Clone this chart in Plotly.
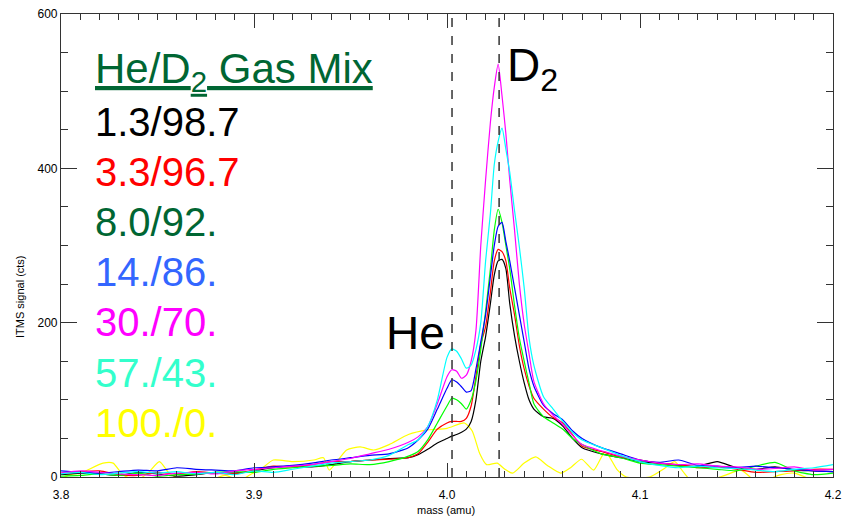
import plotly.graph_objects as go

# ---------------- data ----------------
mass = [3.80, 3.81, 3.82, 3.83, 3.84, 3.85, 3.86, 3.87, 3.88, 3.89, 3.90, 3.91, 3.92, 3.93, 3.94, 3.95, 3.96, 3.97,
        3.98, 3.985, 3.99, 3.995, 4.0, 4.0025, 4.005, 4.0075, 4.01, 4.0125, 4.015, 4.0175, 4.02, 4.0225, 4.0245,
        4.0265, 4.0285, 4.0305, 4.0325, 4.035, 4.0375, 4.04, 4.0425, 4.045, 4.05, 4.055, 4.06, 4.065,
        4.07, 4.08, 4.09, 4.10, 4.11, 4.12, 4.13, 4.14, 4.15, 4.16, 4.17, 4.18, 4.19, 4.20]

sig_1_3 = [3, 5, 4, 2, 6, 4, 1, 3, 6, 5, 8, 12, 14, 13, 16, 20, 22, 24,
           25, 29, 36, 44, 50, 53, 55, 58, 62, 72, 100, 150, 182, 225, 262,
           280, 282, 270, 225, 183, 150, 122, 100, 88, 78, 76, 66, 50,
           38, 30, 25, 20, 18, 15, 14, 20, 12, 10, 13, 9, 8, 7]
sig_3_3 = [5, 7, 8, 3, 2, 6, 4, 7, 5, 4, 9, 14, 13, 16, 20, 20, 22, 23,
           25, 30, 45, 62, 70, 72, 72, 72, 76, 92, 130, 172, 195, 240, 280,
           295, 292, 280, 245, 210, 170, 140, 118, 102, 88, 77, 70, 55,
           40, 33, 26, 22, 18, 16, 12, 13, 10, 6, 7, 8, 10, 10]
sig_8_0 = [1, 2, 4, 2, 5, 1, 3, 4, 6, 7, 6, 10, 12, 14, 15, 17, 16, 20,
           27, 33, 48, 70, 92, 102, 100, 95, 88, 100, 125, 165, 215, 270, 320,
           347, 330, 300, 270, 222, 180, 150, 122, 95, 78, 70, 62, 50,
           42, 30, 25, 18, 16, 14, 12, 10, 8, 14, 19, 8, 3, 5]
sig_14 = [8, 6, 5, 7, 9, 8, 12, 10, 9, 8, 12, 13, 15, 18, 22, 25, 28, 30,
          38, 48, 62, 88, 115, 126, 123, 117, 110, 112, 140, 175, 210, 260, 300,
          325, 330, 305, 280, 245, 210, 175, 140, 118, 93, 82, 74, 60,
          50, 38, 30, 22, 19, 22, 15, 14, 12, 14, 12, 10, 8, 7]
sig_30 = [5, 8, 6, 4, 3, 2, 5, 6, 4, 8, 10, 12, 14, 16, 20, 24, 30, 36,
          45, 52, 65, 95, 130, 139, 137, 128, 132, 150, 190, 300, 385, 460, 505,
          535, 494, 445, 385, 320, 250, 198, 160, 124, 95, 80, 68, 54,
          42, 34, 27, 22, 18, 16, 17, 14, 13, 10, 11, 13, 9, 10]
sig_57 = [4, 6, 3, 5, 7, 5, 7, 4, 6, 3, 8, 6, 10, 14, 18, 20, 22, 28,
          42, 48, 65, 100, 155, 166, 163, 153, 141, 145, 165, 200, 280, 342, 405,
          435, 452, 425, 395, 345, 298, 245, 180, 145, 104, 88, 72, 58,
          48, 38, 28, 20, 15, 12, 14, 12, 11, 9, 7, 10, 12, 16]

mass_100 = [3.800, 3.805, 3.810, 3.8218, 3.827, 3.832, 3.839, 3.845, 3.851, 3.856, 3.862, 3.870, 3.877, 3.885,
            3.893, 3.898, 3.903, 3.910, 3.920, 3.931, 3.936, 3.939, 3.948, 3.955, 3.962, 3.970, 3.980, 3.990,
            4.000, 4.009, 4.013, 4.017, 4.0205, 4.026, 4.030, 4.034, 4.040, 4.046, 4.052, 4.059, 4.064,
            4.0697, 4.076, 4.082, 4.088, 4.093, 4.105, 4.112, 4.118, 4.122, 4.127, 4.135, 4.145, 4.152,
            4.157, 4.161, 4.167, 4.173, 4.180, 4.190, 4.200]
sig_100 = [-2, 3, 5, 18, 18, 3, -4, 5, 20, 5, -3, -5, -4, 2,
           -4, 3, 9, 22, 20, 22, 25, 9, 35, 39, 35, 42, 55, 61,
           63, 70, 60, 30, 16, 18, 10, 5, 18, 26, 15, 5, 12,
           23, 9, 33, 10, 0, 0, 10, 20, 8, -6, -5, 3, 9,
           0, -13, -3, 3, 5, -4, -3]

labels = ["1.3/98.7", "3.3/96.7", "8.0/92.", "14./86.", "30./70.", "57./43.", "100./0."]
line_colors = ["#000000", "#ff0000", "#00ff00", "#0000ff", "#ff00ff", "#00ffff", "#ffff00"]
text_colors = ["#000000", "#ff0000", "#006633", "#3366ff", "#ff00ff", "#33ffcc", "#ffff00"]

he_mass = 4.0026
d2_mass = 4.027

series = [(mass, sig_1_3), (mass, sig_3_3), (mass, sig_8_0), (mass, sig_14),
          (mass, sig_30), (mass, sig_57), (mass_100, sig_100)]

# ---------------- figure ----------------
FONT = "Arial, Liberation Sans, sans-serif"
fig = go.Figure()

draw_order = [6, 0, 1, 2, 3, 4, 5]
for i in draw_order:
    xs, ys = series[i]
    fig.add_trace(go.Scatter(x=xs, y=ys, mode="lines", name=labels[i],
                             line=dict(color=line_colors[i], width=1.2, shape="spline", smoothing=0.6)))

for m in (he_mass, d2_mass):
    fig.add_shape(type="line", xref="x", yref="paper", x0=m, x1=m, y0=0, y1=1,
                  line=dict(color="#333333", width=1.5, dash="dash"))

axis_common = dict(showline=True, linecolor="#333333", linewidth=1.2, mirror="allticks",
                   ticks="inside", tickcolor="#333333", showgrid=False, zeroline=False,
                   automargin=False,
                   tickfont=dict(family=FONT, size=12, color="#000000"))

fig.update_xaxes(range=[3.8, 4.2], dtick=0.1, tick0=3.8, tickformat=".1f", ticklen=14,
                 ticklabelstandoff=6,
                 minor=dict(dtick=0.01, ticklen=6, ticks="inside", tickcolor="#333333"),
                 **axis_common)
fig.update_yaxes(range=[0, 600], dtick=200, ticklen=16,
                 minor=dict(dtick=50, ticklen=7, ticks="inside", tickcolor="#333333"),
                 **axis_common)

ann = []
# legend-like colored text block
ann.append(dict(x=0.041, y=(477 - 72) / 463, xref="paper", yref="paper", xanchor="left", yanchor="middle",
                text="<u>He/D<sub>2</sub> Gas Mix</u>", showarrow=False,
                font=dict(family=FONT, size=42, color="#006633")))
row_y = [122, 172, 222, 272, 322, 373, 423]
for lab, col, yy in zip(labels, text_colors, row_y):
    ann.append(dict(x=0.041, y=(477 - yy) / 463, xref="paper", yref="paper", xanchor="left", yanchor="middle",
                    text=lab, showarrow=False, font=dict(family=FONT, size=40, color=col)))
# peak labels
ann.append(dict(x=(415 - 61) / 772, y=(477 - 333) / 463, xref="paper", yref="paper", xanchor="center",
                yanchor="middle", text="He", showarrow=False, font=dict(family=FONT, size=46, color="#000000")))
ann.append(dict(x=(505 - 61) / 772, y=(477 - 68) / 463, xref="paper", yref="paper", xanchor="left",
                yanchor="middle", text="D<sub>2</sub>", showarrow=False,
                font=dict(family=FONT, size=46, color="#000000")))
# axis titles
ann.append(dict(x=(20 - 61) / 772, y=(477 - 297) / 463, xref="paper", yref="paper", xanchor="center",
                yanchor="middle", text="ITMS signal (cts)", textangle=-90, showarrow=False,
                font=dict(family=FONT, size=11, color="#000000")))
ann.append(dict(x=(446 - 61) / 772, y=(477 - 510) / 463, xref="paper", yref="paper", xanchor="center",
                yanchor="middle", text="mass (amu)", showarrow=False,
                font=dict(family=FONT, size=11, color="#000000")))

fig.update_layout(width=846, height=526, margin=dict(l=61, r=13, t=14, b=49, autoexpand=False),
                  paper_bgcolor="white", plot_bgcolor="white", showlegend=False,
                  annotations=ann, font=dict(family=FONT))

fig.write_html("out.html")
